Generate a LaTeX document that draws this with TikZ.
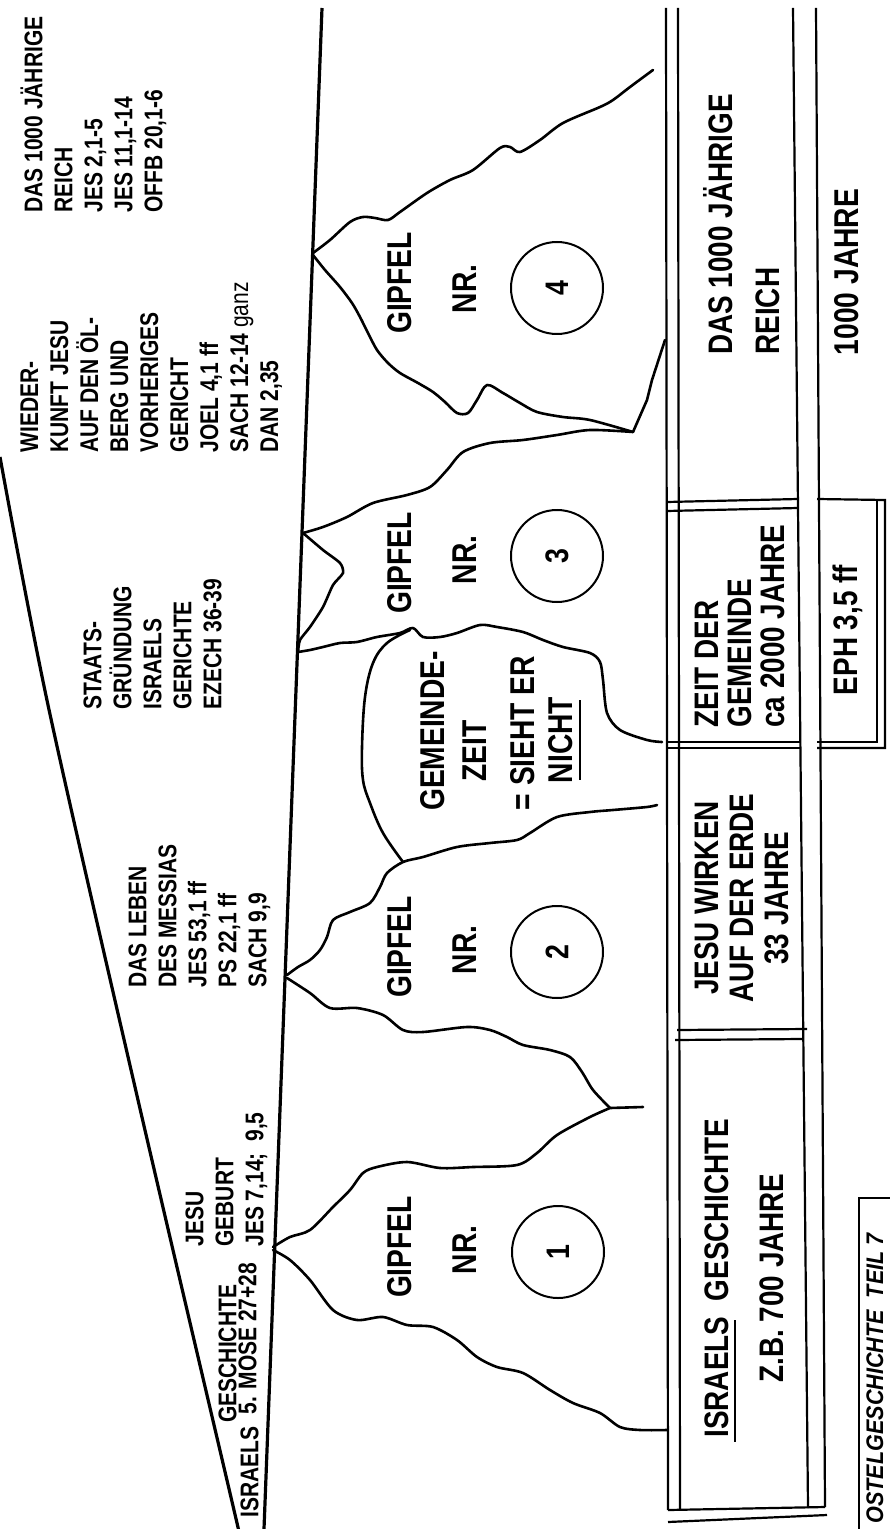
\documentclass[tikz,border=0pt]{standalone}
\usepackage{fontspec}
\setmainfont{Liberation Sans}[FakeStretch=0.82]
\newfontfamily\apofont{Liberation Sans}[FakeStretch=0.9]
\begin{document}
\begin{tikzpicture}[x=0.5pt,y=-0.5pt,
  wedge/.style={line width=1.6pt},
  peak/.style={line width=1.3pt, line join=round, line cap=round},
  col/.style={line width=1.1pt},
  note/.style={rotate=90, anchor=north west, align=left, inner sep=0pt, font=\bfseries\fontsize{12.8}{15}\selectfont},
  big/.style={rotate=90, inner sep=0pt, font=\bfseries\fontsize{17.2}{21}\selectfont},
  boxt/.style={rotate=90, anchor=north west, align=left, inner sep=0pt},
  numc/.style={circle, draw, line width=1pt, minimum size=46pt, inner sep=0pt, rotate=90, font=\bfseries\fontsize{16.3}{18}\selectfont}
]
\useasboundingbox (0,0) rectangle (890,1529);

% wedge lines
\draw[wedge] plot[smooth] coordinates {(0,457) (48,705) (138,1100) (237,1523) (238,1529)};
\draw[wedge] (322,8) -- (264,1529);

% peak 4
\draw[peak] plot[smooth,tension=0.5] coordinates {(313,253) (330,240) (350,222) (363,217) (375,218) (388,220) (400,212) (427,193) (450,180) (473,170) (500,148) (510,147) (520,152) (540,140) (563,123) (600,107) (613,100) (630,87) (653,70)};
\draw[peak] plot[smooth,tension=0.5] coordinates {(313,255) (325,270) (340,287) (352,303) (360,317) (368,333) (377,350) (388,363) (400,373) (418,383) (433,392) (445,402) (457,413) (468,413) (477,400) (487,385) (503,393) (520,403) (537,412) (563,417) (590,420) (633,432)} -- (647,400) -- (652,380) -- (665,340);

% peak 3
\draw[peak] plot[smooth,tension=0.5] coordinates {(303,533) (323,527) (347,517) (373,503) (407,495) (430,487) (447,470) (463,452) (490,443) (523,440) (557,435) (590,430) (633,432)};
\draw[peak] plot[smooth,tension=0.4] coordinates {(303,533) (323,550) (340,563) (343,573) (333,585) (323,607) (310,627) (300,640) (298,652)};
\draw[peak] plot[smooth,tension=0.5] coordinates {(298,652) (310,650) (323,647) (340,643) (357,642) (377,637) (400,633) (413,628) (423,637) (440,637) (457,633) (480,625) (497,627) (523,632) (543,640) (563,647) (590,653) (600,662) (603,680) (607,713) (620,730) (647,740) (662,742)};

% Gemeindezeit arc
\draw[peak] plot[smooth,tension=0.6] coordinates {(410,630) (387,643) (373,663) (365,697) (362,747) (363,780) (370,803) (383,833) (403,862)};

% peak 2
\draw[peak] plot[smooth,tension=0.5] coordinates {(287,975) (298,967) (310,960) (320,950) (327,937) (333,920) (350,912) (370,903) (380,887) (387,873) (403,862) (423,857) (457,847) (490,843) (517,840) (530,833) (557,817) (590,812) (613,810) (647,807) (657,805)};
\draw[peak] plot[smooth,tension=0.5] coordinates {(287,978) (310,993) (330,1008) (357,1008) (383,1015) (403,1030) (423,1032) (467,1027) (490,1030) (507,1037) (523,1045) (550,1050) (570,1057) (582,1072) (593,1090) (610,1108)};

% peak 1
\draw[peak] plot[smooth,tension=0.5] coordinates {(273,1247) (290,1237) (310,1230) (333,1207) (350,1190) (363,1173) (377,1167) (407,1162) (440,1168) (473,1167) (517,1165) (537,1153) (557,1135) (590,1117) (610,1108)} -- (643,1107);
\draw[peak] plot[smooth,tension=0.5] coordinates {(273,1250) (290,1260) (310,1280) (333,1310) (357,1320) (383,1317) (407,1325) (433,1327) (457,1340) (477,1357) (497,1367) (523,1373) (550,1390) (573,1403) (600,1413) (620,1427) (640,1430) (667,1430)};

% column of boxes
\draw[col] (666,8) -- (668,1510);
\draw[col] (678,8) -- (680,1510);
\draw[col] (793,8) -- (808,1508);
\draw[col] (816,8) -- (825,1507);
\draw[col] (668,1510) -- (825,1507);
\draw[col] (668,1522) -- (827,1515);
\draw[col] (667,502) -- (798,499);
\draw[col] (667,511) -- (798,508);
\draw[col] (667,742) -- (800,742);
\draw[col] (667,748) -- (800,748);
\draw[col] (677,1030) -- (807,1029);
\draw[col] (675,1040) -- (802,1039);
% EPH box
\draw[col] (817,499) -- (885,500) -- (885,748) -- (817,748);
\draw[col] (877,500) -- (877,742) -- (817,742);
% bottom right box
\draw[col] (859,1529) -- (859,1198) -- (890,1198);

% annotation texts in the wedge
\node[note] (tA) at (20,213) {DAS 1000 JÄHRIGE\\REICH\\JES 2,1-5\\JES 11,1-14\\OFFB 20,1-6};
\node[note] (tB) at (20,453) {WIEDER-\\KUNFT JESU\\AUF DEN ÖL-\\BERG UND\\VORHERIGES\\GERICHT\\JOEL 4,1 ff\\SACH 12-14 {\mdseries ganz}\\DAN 2,35};
\node[note] (tC) at (83,710) {STAATS-\\GRÜNDUNG\\ISRAELS\\GERICHTE\\EZECH 36-39};
\node[note] (tD) at (128,988) {DAS LEBEN\\DES MESSIAS\\JES 53,1 ff\\PS 22,1 ff\\SACH 9,9};
\node[note] (tE) at (185,1247) {JESU\\GEBURT\\JES 7,14;\ \ 9,5};
\node[note] (tF1) at (218,1423) {GESCHICHTE};
\node[note] (tF2) at (238,1415) {5. MOSE 27+28};
\node[note] (tF3) at (240,1518) {ISRAELS};

% peak labels
\node[big] (g4) at (400,283) {GIPFEL};
\node[big] (r4) at (465,289) {NR.};
\node[numc] (n4) at (557,288) {4};
\node[big] (g3) at (400,563) {GIPFEL};
\node[big] (r3) at (465,560) {NR.};
\node[numc] (n3) at (557,556) {3};
\node[big] (g2) at (400,947) {GIPFEL};
\node[big] (r2) at (465,950) {NR.};
\node[numc] (n2) at (557,952) {2};
\node[big] (g1) at (400,1247) {GIPFEL};
\node[big] (r1) at (465,1250) {NR.};
\node[numc] (n1) at (558,1252) {1};

% Gemeindezeit
\node[big] (ge1) at (433,731) {GEMEINDE-};
\node[big] (ge2) at (475,751) {ZEIT};
\node[big] (ge3) at (523,733) {= SIEHT ER};
\node[big] (ge4) at (561,740) {NICHT};
\draw[line width=1.3pt] (580,700) -- (580,780);

% box texts
\node[boxt, font=\bfseries\fontsize{17}{23.5}\selectfont] (bR) at (703,355) {DAS 1000 JÄHRIGE\\REICH};
\node[big] (bJ) at (847,272) {1000 JAHRE};
\node[boxt, font=\bfseries\fontsize{17}{16.5}\selectfont] (bG) at (695,728) {ZEIT DER\\GEMEINDE\\ca 2000 JAHRE};
\node[big, align=center, font=\bfseries\fontsize{17}{17.5}\selectfont] (bW) at (742,898) {JESU WIRKEN\\AUF DER ERDE\\33 JAHRE};
\node[big, align=center, font=\bfseries\fontsize{17}{27.5}\selectfont] (bI) at (744,1278) {ISRAELS\ \ GESCHICHTE\\Z.B. 700 JAHRE};
\draw[line width=1.2pt] (735,1320) -- (735,1442);
\node[big, font=\bfseries\fontsize{17}{20}\selectfont] (bE) at (848,630) {EPH 3,5 ff};
\node[rotate=90, anchor=north west, inner sep=0pt, font=\apofont\bfseries\itshape\fontsize{12}{14}\selectfont] (apo) at (866,1524) {OSTELGESCHICHTE\ \ TEIL 7};
\end{tikzpicture}
\end{document}
